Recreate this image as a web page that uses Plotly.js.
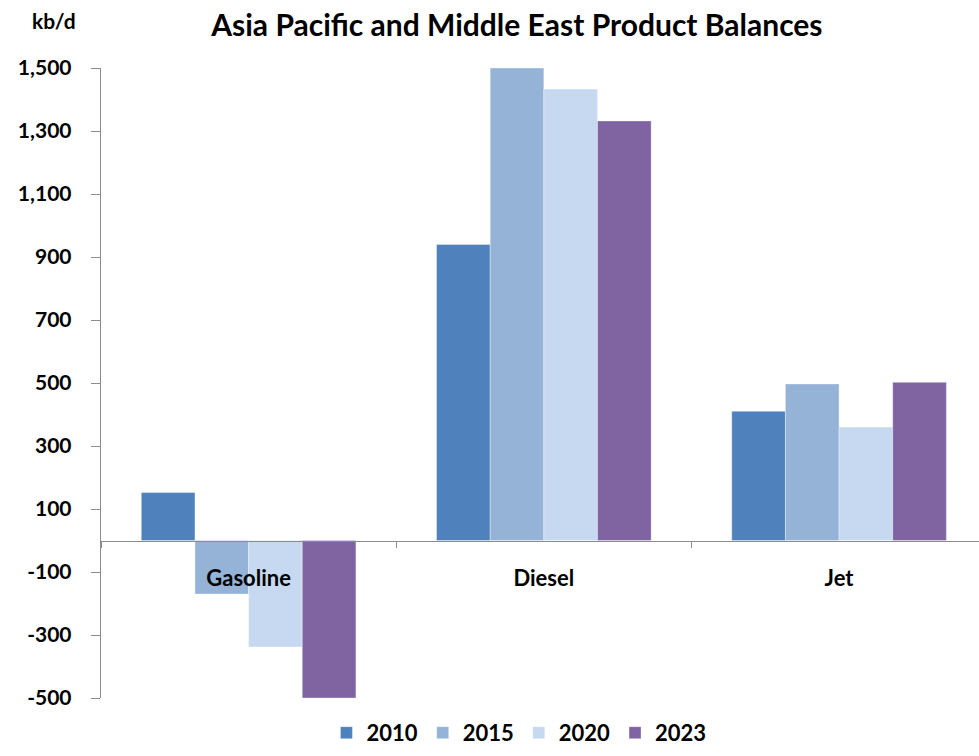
<!DOCTYPE html>
<html>
<head>
<meta charset="utf-8">
<script src="https://cdn.plot.ly/plotly-3.0.1.min.js"></script>
<style>html,body{margin:0;padding:0;background:#fff;}#chart{width:979px;height:756px;}</style>
</head>
<body>
<div id="chart"></div>
<script>
const categories = ["Gasoline", "Diesel", "Jet"];
const seriesNames = ["2010", "2015", "2020", "2023"];
const values2010 = [152, 940, 410];
const values2015 = [-170, 1500, 497];
const values2020 = [-338, 1433, 360];
const values2023 = [-500, 1332, 502];
const yTickVals = [-500, -300, -100, 100, 300, 500, 700, 900, 1100, 1300, 1500];

const seriesValues = [values2010, values2015, values2020, values2023];
const colors = ["#4F81BD", "#95B3D7", "#C6D9F0", "#8064A2"];
const font = "Lato, 'Open Sans', sans-serif";

const traces = seriesNames.map((n, i) => ({
  type: "bar",
  name: n,
  x: categories,
  y: seriesValues[i],
  marker: {color: colors[i], line: {color: "rgba(255,255,255,0.35)", width: 1}},
  hoverinfo: "skip"
}));

const fmt = v => (v < 0 ? "-" : "") + Math.abs(v).toLocaleString("en-US");

const layout = {
  width: 979, height: 756,
  margin: {l: 101, r: 0, t: 68, b: 58, autoexpand: false},
  paper_bgcolor: "#fff", plot_bgcolor: "#fff",
  font: {family: font, color: "#000", size: 20},
  barmode: "group", bargap: 0.273, bargroupgap: 0,
  title: {text: "Asia Pacific and Middle East Product Balances", font: {family: font, size: 30, color: "#000", weight: "bold"},
          x: 0.528, xref: "container", xanchor: "center", y: 0.966, yref: "container", yanchor: "middle"},
  xaxis: {
    type: "category", range: [-0.5, 2.474], anchor: "free", position: 0.25,
    showline: true, linecolor: "#8c8c8c", linewidth: 1.3,
    ticks: "outside", tickson: "boundaries", ticklen: 6, tickcolor: "#8c8c8c",
    tickfont: {family: font, size: 22, color: "#000", weight: "bold"}, ticklabelstandoff: 18,
    showgrid: false, zeroline: false, fixedrange: true
  },
  yaxis: {
    range: [-500, 1500], tickvals: yTickVals, ticktext: yTickVals.map(fmt),
    showline: true, linecolor: "#8c8c8c", linewidth: 1.3,
    ticks: "outside", ticklen: 9, tickcolor: "#8c8c8c",
    tickfont: {family: font, size: 21, color: "#000", weight: "bold"}, ticklabelstandoff: 15,
    showgrid: false, zeroline: false, fixedrange: true
  },
  legend: {orientation: "h", x: 0.476, xanchor: "center", y: -0.022, yanchor: "top",
           font: {family: font, size: 22, color: "#000", weight: "bold"}, itemwidth: 30, traceorder: "normal"},
  annotations: [{text: "kb/d", xref: "paper", yref: "paper", x: -0.053, y: 1.076,
                 xanchor: "center", yanchor: "middle", showarrow: false,
                 font: {family: font, size: 21, color: "#000", weight: "bold"}}],
  showlegend: true
};

Plotly.newPlot("chart", traces, layout, {displayModeBar: false, staticPlot: true});
</script>
</body>
</html>
